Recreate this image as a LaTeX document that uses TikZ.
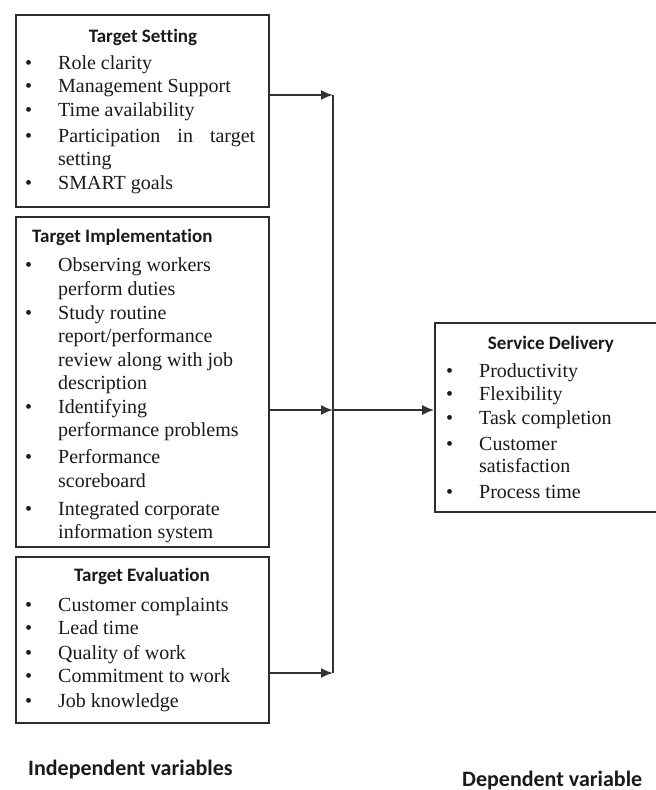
\documentclass[tikz,border=0pt]{standalone}
\usepackage{fontspec}
\setmainfont{Liberation Serif}
\newfontfamily\hfont[Ligatures=NoCommon]{Carlito}
\usetikzlibrary{arrows.meta}
\definecolor{boxc}{HTML}{2E2E2E}
\definecolor{linec}{HTML}{333333}
\definecolor{txt}{HTML}{1A1A1A}
\newcommand\itembul{\llap{\textbullet\hspace{26pt}}}
\begin{document}
\begin{tikzpicture}[x=1pt,y=-1pt,
  frame/.style={draw=boxc, line width=1.6pt, inner sep=0pt},
  body/.style={anchor=west, inner sep=0pt, text height=13pt, text depth=4pt, font=\fontsize{20}{23}\selectfont, text=txt},
  head/.style={inner sep=0pt, text height=13pt, text depth=4pt, font=\hfont\bfseries\fontsize{19}{22}\selectfont, text=txt},
  foot/.style={anchor=west, inner sep=0pt, text height=14pt, text depth=4pt, font=\hfont\bfseries\fontsize{22}{25}\selectfont, text=txt},
  conn/.style={draw=linec, line width=1.8pt, -{Latex[length=12pt,width=10pt]}},
  trunk/.style={draw=linec, line width=1.8pt}]
\useasboundingbox[fill=white] (0,0) rectangle (656,790);

% boxes
\node[frame, minimum width=253pt, minimum height=192pt] (ts) at (142.5,111) {};
\node[frame, minimum width=253pt, minimum height=330pt] (ti) at (142.5,382) {};
\node[frame, minimum width=253pt, minimum height=166pt] (te) at (142.5,640) {};
\node[frame, minimum width=227pt, minimum height=189pt] (sd) at (548.5,417.5) {};

% Target Setting
\node[head] (tsh) at (143,38) {Target Setting};
\node[body] (ts1) at (58,65) {\itembul Role clarity};
\node[body] (ts2) at (58,88) {\itembul Management Support};
\node[body] (ts3) at (58,112) {\itembul Time availability};
\node[body] (ts4) at (58,138) {\itembul\makebox[197pt][s]{Participation in target}};
\node[body] (ts5) at (58,161) {setting};
\node[body] (ts6) at (58,185) {\itembul SMART goals};

% Target Implementation
\node[head, anchor=west] (tih) at (32,238) {Target Implementation};
\node[body] (ti1) at (58,267) {\itembul Observing workers};
\node[body] (ti2) at (58,291) {perform duties};
\node[body] (ti3) at (58,315) {\itembul Study routine};
\node[body] (ti4) at (58,338) {report/performance};
\node[body] (ti5) at (58,362) {review along with job};
\node[body] (ti6) at (58,385) {description};
\node[body] (ti7) at (58,409) {\itembul Identifying};
\node[body] (ti8) at (58,432) {performance problems};
\node[body] (ti9) at (58,459) {\itembul Performance};
\node[body] (ti10) at (58,483) {scoreboard};
\node[body] (ti11) at (58,511) {\itembul Integrated corporate};
\node[body] (ti12) at (58,534) {information system};

% Target Evaluation
\node[head] (teh) at (142,577) {Target Evaluation};
\node[body] (te1) at (58,607) {\itembul Customer complaints};
\node[body] (te2) at (58,630) {\itembul Lead time};
\node[body] (te3) at (58,655) {\itembul Quality of work};
\node[body] (te4) at (58,678) {\itembul Commitment to work};
\node[body] (te5) at (58,703) {\itembul Job knowledge};

% Service Delivery
\node[head] (sdh) at (551,345) {Service Delivery};
\node[body] (sd1) at (479,373) {\itembul Productivity};
\node[body] (sd2) at (479,396) {\itembul Flexibility};
\node[body] (sd3) at (479,420) {\itembul Task completion};
\node[body] (sd4) at (479,446) {\itembul Customer};
\node[body] (sd5) at (479,468) {satisfaction};
\node[body] (sd6) at (479,494) {\itembul Process time};

% footer labels
\node[foot] (iv) at (28,770) {Independent variables};
\node[foot] (dv) at (462,781) {Dependent variable};

% connectors
\coordinate (j1) at (333,95);
\coordinate (j2) at (333,410);
\coordinate (j3) at (333,673);
\draw[trunk] (j1) -- (j3);
\draw[conn] (j1 -| ts.east) -- (j1);
\draw[conn] (j2 -| ti.east) -- (j2);
\draw[conn] (j3 -| te.east) -- (j3);
\draw[conn] (j2) -- (j2 -| sd.west);
\end{tikzpicture}
\end{document}
